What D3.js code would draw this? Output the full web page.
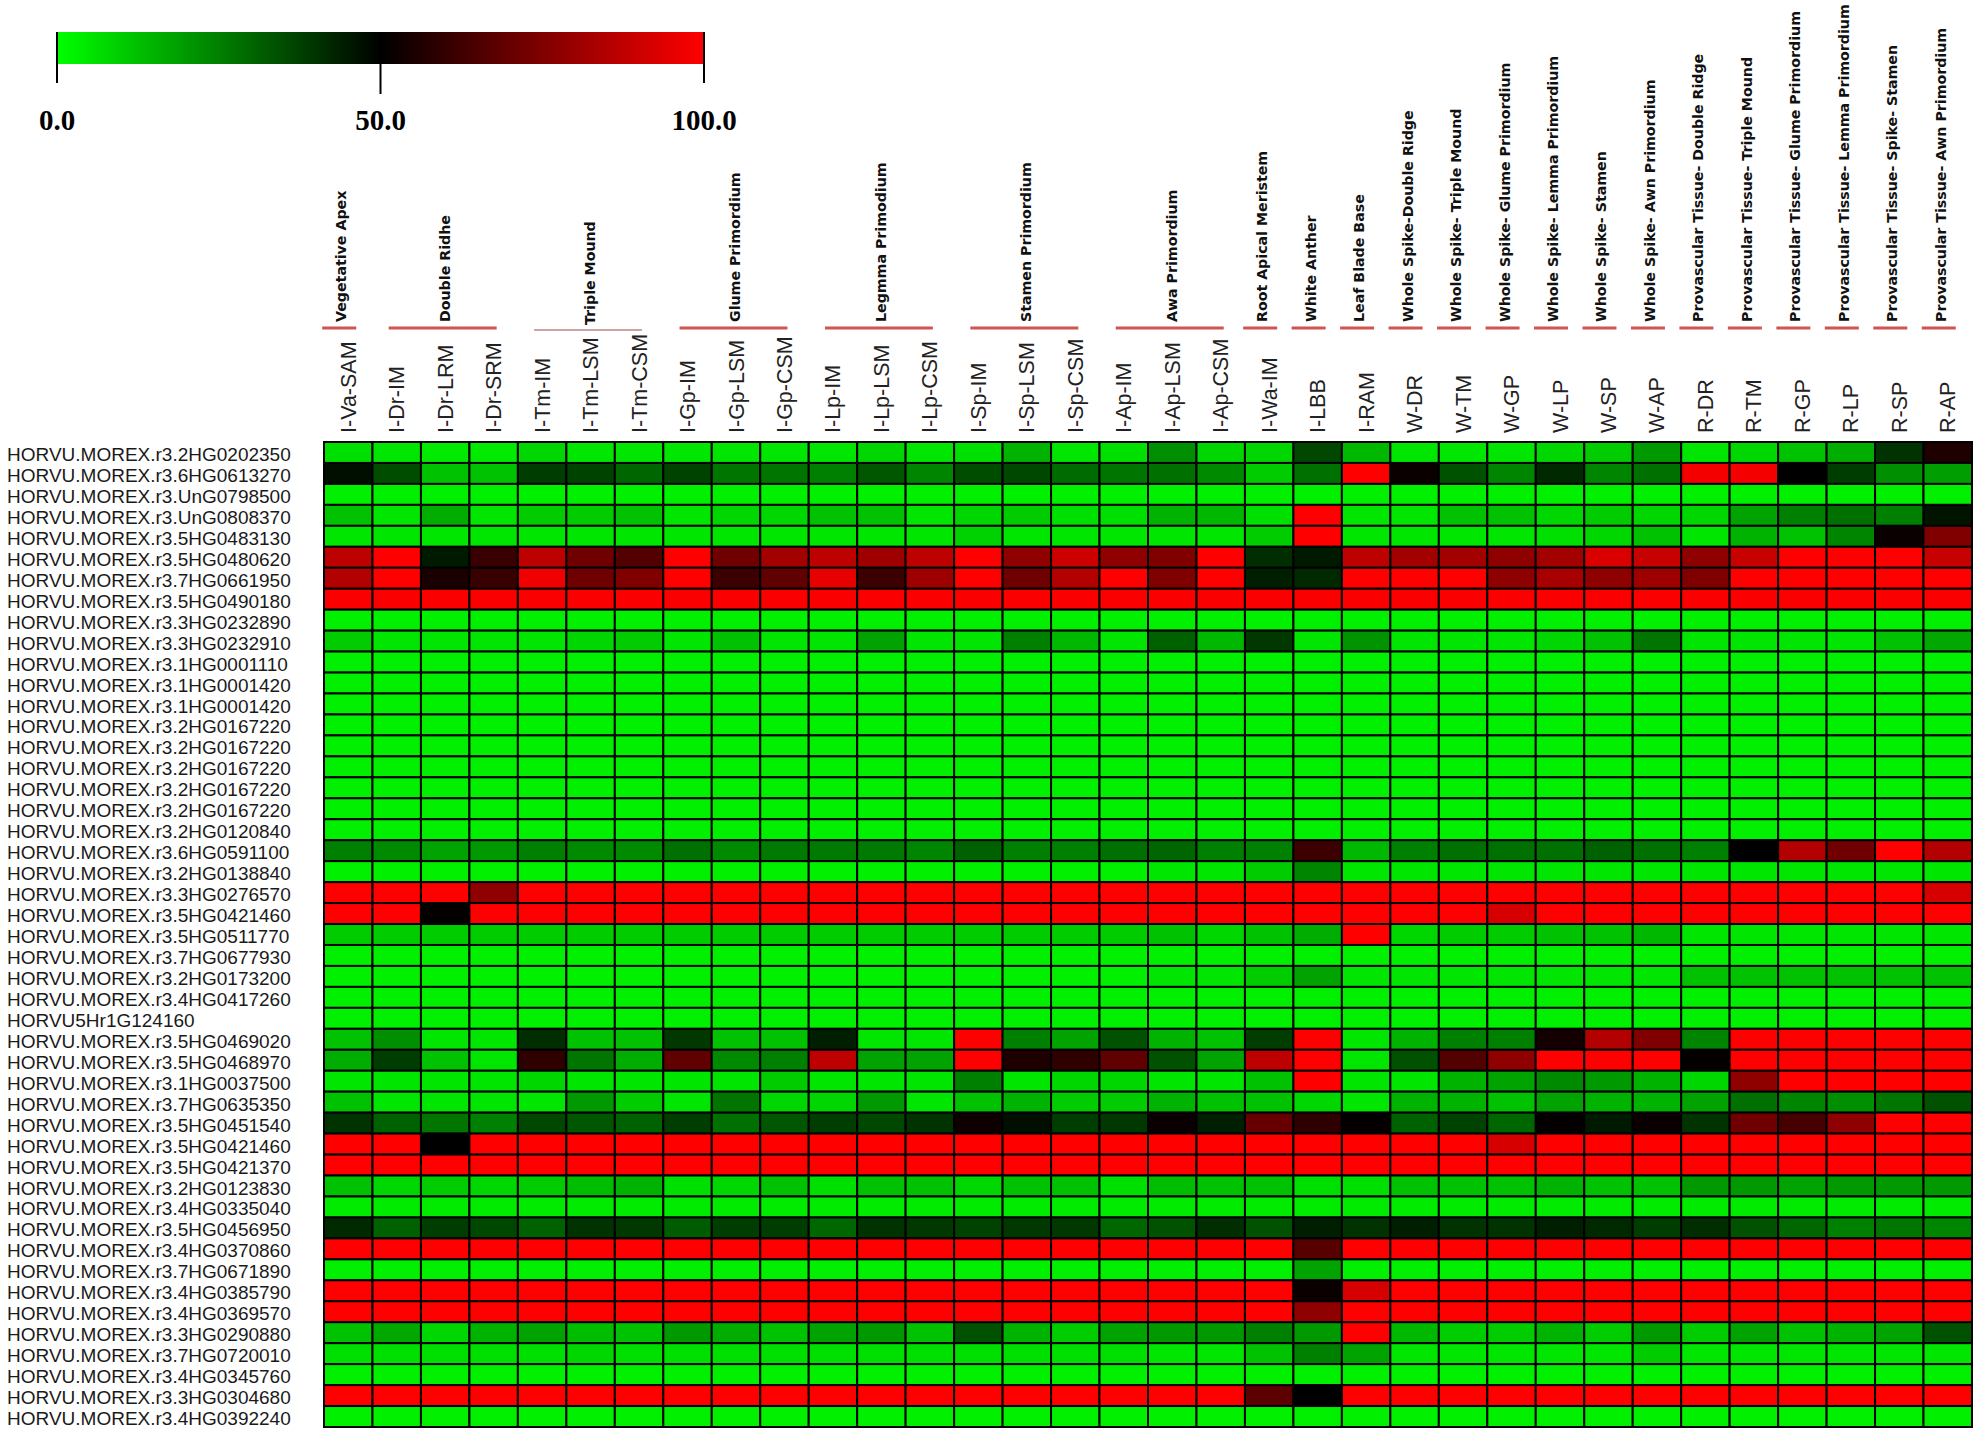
<!DOCTYPE html>
<html>
<head>
<meta charset="utf-8">
<script src="https://cdn.jsdelivr.net/npm/d3@7/dist/d3.min.js"></script>
<style>
  body { margin: 0; background: #fff; }
</style>
</head>
<body>
<svg id="heatmap"></svg>
<script>
// Sample (column) names
const samples = ["I-Va-SAM", "I-Dr-IM", "I-Dr-LRM", "I-Dr-SRM", "I-Tm-IM", "I-Tm-LSM", "I-Tm-CSM",
  "I-Gp-IM", "I-Gp-LSM", "I-Gp-CSM", "I-Lp-IM", "I-Lp-LSM", "I-Lp-CSM", "I-Sp-IM", "I-Sp-LSM", "I-Sp-CSM",
  "I-Ap-IM", "I-Ap-LSM", "I-Ap-CSM", "I-Wa-IM", "I-LBB", "I-RAM", "W-DR", "W-TM", "W-GP", "W-LP", "W-SP",
  "W-AP", "R-DR", "R-TM", "R-GP", "R-LP", "R-SP", "R-AP"];

// Gene (row) names
const genes = ["HORVU.MOREX.r3.2HG0202350", "HORVU.MOREX.r3.6HG0613270", "HORVU.MOREX.r3.UnG0798500",
  "HORVU.MOREX.r3.UnG0808370", "HORVU.MOREX.r3.5HG0483130", "HORVU.MOREX.r3.5HG0480620",
  "HORVU.MOREX.r3.7HG0661950", "HORVU.MOREX.r3.5HG0490180", "HORVU.MOREX.r3.3HG0232890",
  "HORVU.MOREX.r3.3HG0232910", "HORVU.MOREX.r3.1HG0001110", "HORVU.MOREX.r3.1HG0001420",
  "HORVU.MOREX.r3.1HG0001420", "HORVU.MOREX.r3.2HG0167220", "HORVU.MOREX.r3.2HG0167220",
  "HORVU.MOREX.r3.2HG0167220", "HORVU.MOREX.r3.2HG0167220", "HORVU.MOREX.r3.2HG0167220",
  "HORVU.MOREX.r3.2HG0120840", "HORVU.MOREX.r3.6HG0591100", "HORVU.MOREX.r3.2HG0138840",
  "HORVU.MOREX.r3.3HG0276570", "HORVU.MOREX.r3.5HG0421460", "HORVU.MOREX.r3.5HG0511770",
  "HORVU.MOREX.r3.7HG0677930", "HORVU.MOREX.r3.2HG0173200", "HORVU.MOREX.r3.4HG0417260",
  "HORVU5Hr1G124160", "HORVU.MOREX.r3.5HG0469020", "HORVU.MOREX.r3.5HG0468970",
  "HORVU.MOREX.r3.1HG0037500", "HORVU.MOREX.r3.7HG0635350", "HORVU.MOREX.r3.5HG0451540",
  "HORVU.MOREX.r3.5HG0421460", "HORVU.MOREX.r3.5HG0421370", "HORVU.MOREX.r3.2HG0123830",
  "HORVU.MOREX.r3.4HG0335040", "HORVU.MOREX.r3.5HG0456950", "HORVU.MOREX.r3.4HG0370860",
  "HORVU.MOREX.r3.7HG0671890", "HORVU.MOREX.r3.4HG0385790", "HORVU.MOREX.r3.4HG0369570",
  "HORVU.MOREX.r3.3HG0290880", "HORVU.MOREX.r3.7HG0720010", "HORVU.MOREX.r3.4HG0345760",
  "HORVU.MOREX.r3.3HG0304680", "HORVU.MOREX.r3.4HG0392240"];

// Tissue groups over the columns: name, first column, last column
const groupNames = ["Vegetative Apex", "Double Ridhe", "Triple Mound", "Glume Primordium", "Legmma Primodium",
  "Stamen Primordium", "Awa Primordium", "Root Apical Meristem", "White Anther", "Leaf Blade Base",
  "Whole Spike-Double Ridge", "Whole Spike- Triple Mound", "Whole Spike- Glume Primordium",
  "Whole Spike- Lemma Primordium", "Whole Spike- Stamen", "Whole Spike- Awn Primordium",
  "Provascular Tissue- Double Ridge", "Provascular Tissue- Triple Mound", "Provascular Tissue- Glume Primordium",
  "Provascular Tissue- Lemma Primordium", "Provascular Tissue- Spike- Stamen", "Provascular Tissue- Awn Primordium"];
const groupCols = [[0, 0], [1, 3], [4, 6], [7, 9], [10, 12], [13, 15], [16, 18], [19, 19], [20, 20], [21, 21],
  [22, 22], [23, 23], [24, 24], [25, 25], [26, 26], [27, 27], [28, 28], [29, 29], [30, 30], [31, 31], [32, 32], [33, 33]];

// Legend ticks
const legendTicks = [0, 50, 100];

// Relative expression (0-100), one row per gene, one value per sample
const expression = [
  [6, 5, 4, 4, 8, 5, 5, 5, 5, 5, 5, 8, 5, 6, 15, 5, 6, 22, 8, 8, 36, 14, 5, 5, 5, 8, 10, 20, 5, 8, 12, 16, 40, 56],
  [47, 35, 12, 12, 38, 37, 30, 37, 27, 27, 25, 33, 24, 35, 36, 29, 27, 28, 23, 10, 28, 100, 52, 34, 24, 42, 24, 28, 98, 98, 50, 38, 22, 19],
  [3, 3, 3, 3, 3, 3, 3, 3, 3, 3, 3, 3, 3, 3, 3, 3, 3, 3, 3, 3, 3, 3, 3, 3, 3, 3, 3, 3, 3, 3, 3, 3, 3, 3],
  [12, 5, 16, 5, 10, 10, 12, 5, 8, 8, 12, 12, 5, 8, 10, 6, 6, 15, 14, 6, 100, 5, 5, 12, 12, 8, 10, 8, 8, 18, 25, 28, 25, 46],
  [5, 5, 5, 5, 5, 5, 5, 5, 5, 5, 5, 5, 5, 9, 5, 5, 5, 5, 5, 10, 100, 5, 5, 5, 5, 6, 8, 12, 5, 15, 12, 24, 52, 75],
  [87, 100, 45, 61, 87, 72, 66, 100, 72, 82, 87, 81, 87, 100, 78, 90, 78, 75, 100, 41, 45, 87, 82, 82, 78, 82, 93, 89, 78, 89, 100, 100, 100, 89],
  [85, 100, 55, 61, 97, 72, 75, 100, 62, 69, 95, 62, 81, 100, 72, 85, 100, 75, 100, 44, 42, 100, 100, 100, 78, 83, 78, 81, 75, 100, 100, 100, 100, 100],
  [99, 99, 99, 99, 99, 99, 99, 99, 99, 99, 99, 99, 99, 99, 99, 99, 99, 99, 99, 99, 99, 99, 99, 99, 99, 99, 99, 99, 99, 99, 99, 99, 99, 99],
  [3, 3, 3, 3, 3, 3, 3, 3, 3, 3, 3, 3, 3, 3, 3, 3, 3, 3, 3, 3, 3, 3, 3, 3, 3, 3, 3, 3, 3, 3, 3, 3, 3, 3],
  [10, 5, 5, 5, 5, 8, 10, 5, 12, 5, 5, 18, 5, 5, 25, 14, 5, 31, 14, 39, 5, 21, 5, 5, 5, 8, 12, 27, 5, 5, 5, 5, 12, 17],
  [3, 3, 3, 3, 3, 3, 3, 3, 3, 3, 3, 3, 3, 3, 3, 3, 3, 3, 3, 3, 3, 3, 3, 3, 3, 3, 3, 3, 3, 3, 3, 3, 3, 3],
  [3, 3, 3, 3, 3, 3, 3, 3, 3, 3, 3, 3, 3, 3, 3, 3, 3, 3, 3, 3, 3, 3, 3, 3, 3, 3, 3, 3, 3, 3, 3, 3, 3, 3],
  [3, 3, 3, 3, 3, 3, 3, 3, 3, 3, 3, 3, 3, 3, 3, 3, 3, 3, 3, 3, 3, 3, 3, 3, 3, 3, 3, 3, 3, 3, 3, 3, 3, 3],
  [3, 3, 3, 3, 3, 3, 3, 3, 3, 3, 3, 3, 3, 3, 3, 3, 3, 3, 3, 3, 3, 3, 3, 3, 3, 3, 3, 3, 3, 3, 3, 3, 3, 3],
  [3, 3, 3, 3, 3, 3, 3, 3, 3, 3, 3, 3, 3, 3, 3, 3, 3, 3, 3, 3, 3, 3, 3, 3, 3, 3, 3, 3, 3, 3, 3, 3, 3, 3],
  [3, 3, 3, 3, 3, 3, 3, 3, 3, 3, 3, 3, 3, 3, 3, 3, 3, 3, 3, 3, 3, 3, 3, 3, 3, 3, 3, 3, 3, 3, 3, 3, 3, 3],
  [3, 3, 3, 3, 3, 3, 3, 3, 3, 3, 3, 3, 3, 3, 3, 3, 3, 3, 3, 3, 3, 3, 3, 3, 3, 3, 3, 3, 3, 3, 3, 3, 3, 3],
  [3, 3, 3, 3, 3, 3, 3, 3, 3, 3, 3, 3, 3, 3, 3, 3, 3, 3, 3, 3, 3, 3, 3, 3, 3, 3, 3, 3, 3, 3, 3, 3, 3, 3],
  [3, 3, 3, 3, 3, 3, 3, 3, 3, 3, 3, 3, 3, 3, 3, 3, 3, 3, 3, 3, 3, 3, 3, 3, 3, 3, 3, 3, 3, 3, 3, 3, 3, 3],
  [25, 23, 18, 20, 25, 23, 23, 28, 23, 26, 26, 26, 24, 31, 25, 25, 28, 30, 25, 25, 62, 14, 25, 28, 28, 28, 31, 28, 25, 50, 85, 72, 100, 85],
  [3, 3, 3, 3, 3, 3, 3, 3, 3, 3, 3, 3, 3, 3, 3, 3, 3, 5, 5, 10, 24, 5, 5, 5, 5, 5, 5, 5, 5, 5, 5, 5, 5, 5],
  [100, 100, 100, 78, 100, 100, 100, 100, 100, 100, 100, 100, 100, 100, 100, 100, 100, 100, 100, 100, 100, 100, 100, 100, 100, 100, 100, 100, 100, 100, 100, 100, 100, 92],
  [100, 100, 51, 100, 100, 100, 100, 100, 100, 100, 100, 100, 100, 100, 100, 100, 100, 100, 100, 100, 100, 100, 100, 100, 92, 100, 100, 100, 100, 100, 100, 100, 100, 100],
  [10, 10, 10, 10, 10, 10, 10, 10, 10, 10, 10, 10, 10, 10, 10, 10, 10, 12, 8, 12, 16, 100, 8, 10, 10, 12, 12, 14, 5, 5, 5, 5, 5, 5],
  [3, 3, 3, 3, 3, 3, 3, 3, 3, 3, 3, 3, 3, 3, 3, 3, 3, 3, 3, 3, 3, 3, 3, 3, 3, 3, 3, 3, 3, 3, 3, 3, 3, 3],
  [3, 3, 3, 3, 3, 3, 3, 3, 3, 3, 3, 3, 3, 3, 3, 3, 3, 5, 5, 10, 18, 5, 5, 5, 5, 5, 5, 5, 12, 12, 12, 12, 12, 12],
  [3, 3, 3, 3, 3, 3, 3, 3, 3, 3, 3, 3, 3, 3, 3, 3, 3, 3, 3, 3, 3, 3, 3, 3, 3, 3, 3, 3, 3, 3, 3, 3, 3, 3],
  [3, 3, 3, 3, 3, 3, 3, 3, 3, 3, 3, 3, 3, 3, 3, 3, 3, 3, 3, 3, 3, 3, 3, 3, 3, 3, 3, 3, 3, 3, 3, 3, 3, 3],
  [12, 22, 5, 5, 41, 12, 12, 39, 12, 12, 44, 5, 5, 100, 25, 18, 34, 15, 12, 38, 100, 5, 15, 25, 25, 54, 85, 75, 24, 100, 100, 100, 100, 100],
  [16, 38, 12, 5, 59, 27, 16, 69, 23, 25, 87, 18, 18, 100, 56, 59, 69, 34, 18, 87, 100, 5, 34, 66, 78, 100, 100, 100, 51, 100, 100, 100, 100, 100],
  [5, 5, 5, 5, 8, 5, 5, 5, 5, 10, 5, 5, 5, 25, 5, 8, 8, 5, 5, 12, 100, 5, 5, 15, 18, 23, 20, 15, 8, 78, 100, 100, 100, 100],
  [12, 5, 5, 5, 5, 20, 10, 5, 27, 8, 8, 20, 5, 12, 15, 10, 10, 15, 12, 12, 8, 5, 15, 15, 12, 18, 15, 15, 18, 28, 24, 22, 27, 34],
  [40, 31, 27, 25, 36, 33, 31, 38, 28, 33, 38, 36, 40, 53, 47, 38, 39, 52, 44, 70, 59, 51, 31, 37, 30, 51, 45, 52, 40, 72, 64, 78, 100, 100],
  [100, 100, 50, 100, 100, 100, 100, 100, 100, 100, 100, 100, 100, 100, 100, 100, 100, 100, 100, 100, 100, 100, 100, 100, 92, 100, 100, 100, 100, 100, 100, 100, 100, 100],
  [100, 100, 100, 100, 100, 100, 100, 100, 100, 100, 100, 100, 100, 100, 100, 100, 100, 100, 100, 100, 100, 100, 100, 100, 100, 100, 100, 100, 100, 100, 100, 100, 100, 100],
  [12, 8, 10, 8, 10, 13, 15, 6, 8, 12, 6, 12, 12, 8, 12, 12, 6, 13, 12, 12, 6, 6, 12, 12, 12, 15, 12, 12, 20, 20, 18, 20, 20, 20],
  [4, 4, 4, 4, 4, 4, 4, 4, 4, 4, 4, 4, 4, 4, 4, 4, 4, 4, 4, 4, 4, 4, 4, 4, 4, 4, 4, 4, 4, 4, 4, 4, 4, 4],
  [42, 31, 38, 36, 31, 40, 39, 32, 38, 38, 30, 40, 39, 37, 39, 39, 30, 34, 41, 34, 44, 40, 44, 40, 40, 44, 42, 38, 41, 34, 30, 25, 27, 24],
  [100, 100, 100, 100, 100, 100, 100, 100, 100, 100, 100, 100, 100, 100, 100, 100, 100, 100, 100, 100, 67, 100, 100, 100, 100, 100, 100, 100, 100, 100, 100, 100, 100, 100],
  [3, 3, 3, 3, 3, 3, 3, 3, 3, 3, 3, 3, 3, 3, 3, 3, 3, 3, 3, 3, 18, 3, 3, 3, 3, 3, 3, 3, 3, 3, 3, 3, 3, 3],
  [100, 100, 100, 100, 100, 100, 100, 100, 100, 100, 100, 100, 100, 100, 100, 100, 100, 100, 100, 100, 52, 92, 100, 100, 100, 100, 100, 100, 100, 100, 100, 100, 100, 100],
  [100, 100, 100, 100, 100, 100, 100, 100, 100, 100, 100, 100, 100, 100, 100, 100, 100, 100, 100, 100, 78, 100, 100, 100, 100, 100, 100, 100, 100, 100, 100, 100, 100, 100],
  [12, 17, 8, 15, 18, 13, 12, 20, 16, 12, 18, 20, 12, 34, 15, 10, 18, 20, 20, 25, 20, 100, 14, 10, 10, 15, 10, 20, 10, 18, 12, 15, 18, 34],
  [6, 6, 6, 6, 6, 8, 6, 6, 6, 6, 6, 6, 6, 6, 6, 6, 6, 5, 5, 12, 25, 18, 5, 5, 5, 5, 5, 10, 5, 5, 5, 5, 5, 5],
  [3, 3, 3, 3, 3, 3, 3, 3, 3, 3, 3, 3, 3, 3, 3, 3, 3, 3, 3, 3, 3, 3, 3, 3, 3, 3, 3, 3, 3, 3, 3, 3, 3, 3],
  [100, 100, 100, 100, 100, 100, 100, 100, 100, 100, 100, 100, 100, 100, 100, 100, 100, 100, 100, 68, 50, 100, 100, 100, 100, 100, 100, 100, 100, 100, 100, 100, 100, 100],
  [3, 3, 3, 3, 3, 3, 3, 3, 3, 3, 3, 3, 3, 3, 3, 3, 3, 3, 3, 3, 3, 3, 3, 3, 3, 3, 3, 3, 3, 3, 3, 3, 3, 3]
];

const width = 1985;
const height = 1435;
const grid = { left: 324, right: 1972, top: 442, bottom: 1427 };

const svg = d3.select("#heatmap")
  .attr("width", width)
  .attr("height", height)
  .style("display", "block");

svg.append("rect")
  .attr("width", width)
  .attr("height", height)
  .attr("fill", "#fff");

// Scales
const x = d3.scaleBand().domain(samples).range([grid.left, grid.right]);
const y = d3.scaleBand().domain(d3.range(genes.length)).range([grid.top, grid.bottom]);
const color = d3.scaleLinear()
  .domain([0, 50, 100])
  .range(["#00ff00", "#000000", "#ff0000"]);

// Heatmap cells
const cells = [];
expression.forEach((row, i) =>
{
  row.forEach((v, j) => cells.push({ gene: i, sample: samples[j], value: v }));
});

svg.append("g")
  .selectAll("rect")
  .data(cells)
  .enter()
  .append("rect")
  .attr("x", d => x(d.sample))
  .attr("y", d => y(d.gene))
  .attr("width", x.bandwidth())
  .attr("height", y.bandwidth())
  .attr("fill", d => color(d.value))
  .attr("stroke", "#000")
  .attr("stroke-width", 2);

// Gene labels
svg.append("g")
  .style("font", "19px 'Liberation Sans', Arial, sans-serif")
  .attr("fill", "#1a1a1a")
  .selectAll("text")
  .data(genes)
  .enter()
  .append("text")
  .attr("x", 7)
  .attr("y", (d, i) => y(i) + y.bandwidth() / 2)
  .attr("dy", "0.45em")
  .text(d => d);

// Sample labels, rotated
svg.append("g")
  .style("font", "21.5px 'Liberation Sans', Arial, sans-serif")
  .attr("fill", "#222")
  .selectAll("text")
  .data(samples)
  .enter()
  .append("text")
  .attr("transform", d => `translate(${ x(d) + x.bandwidth() / 2 },433) rotate(-90)`)
  .attr("dy", "0.35em")
  .text(d => d);

// Group brackets and labels
const groups = groupNames.map((name, i) =>
{
  const [a, b] = groupCols[i];
  const ca = x(samples[a]) + x.bandwidth() / 2;
  const cb = x(samples[b]) + x.bandwidth() / 2;
  const x1 = a === b ? ca - 26 : ca - 8;
  const x2 = a === b ? ca + 8 : cb + 3;
  return { name, x1, x2, thin: name === "Triple Mound" };
});

const groupG = svg.append("g");

groupG.selectAll("line")
  .data(groups)
  .enter()
  .append("line")
  .attr("x1", d => d.x1)
  .attr("x2", d => d.x2)
  .attr("y1", d => d.thin ? 330 : 328)
  .attr("y2", d => d.thin ? 330 : 328)
  .attr("stroke", d => d.thin ? "#9a4a48" : "#cf5552")
  .attr("stroke-width", d => d.thin ? 1.2 : 3);

groupG.selectAll("text")
  .data(groups)
  .enter()
  .append("text")
  .attr("transform", d => `translate(${ (d.x1 + d.x2) / 2 + 2 },${ d.thin ? 325 : 322 }) rotate(-90)`)
  .attr("dy", "0.35em")
  .style("font", "bold 14.2px 'DejaVu Sans', Verdana, sans-serif")
  .attr("fill", "#111")
  .text(d => d.name);

// Colour legend
const legendX = d3.scaleLinear().domain([0, 100]).range([57, 704]);

const grad = svg.append("defs")
  .append("linearGradient")
  .attr("id", "legendGrad");

grad.selectAll("stop")
  .data(d3.range(0, 101, 10))
  .enter()
  .append("stop")
  .attr("offset", d => d + "%")
  .attr("stop-color", d => color(d));

svg.append("rect")
  .attr("x", legendX(0))
  .attr("y", 32)
  .attr("width", legendX(100) - legendX(0))
  .attr("height", 32)
  .attr("fill", "url(#legendGrad)");

svg.append("g")
  .selectAll("line")
  .data(legendTicks)
  .enter()
  .append("line")
  .attr("x1", d => legendX(d))
  .attr("x2", d => legendX(d))
  .attr("y1", d => d === 50 ? 64 : 32)
  .attr("y2", d => d === 50 ? 94 : 83)
  .attr("stroke", "#000")
  .attr("stroke-width", 2);

svg.append("g")
  .style("font", "bold 29px 'Liberation Serif', 'Times New Roman', serif")
  .selectAll("text")
  .data(legendTicks)
  .enter()
  .append("text")
  .attr("x", d => legendX(d))
  .attr("y", 130)
  .attr("text-anchor", "middle")
  .text(d => d3.format(".1f")(d));
</script>
</body>
</html>
